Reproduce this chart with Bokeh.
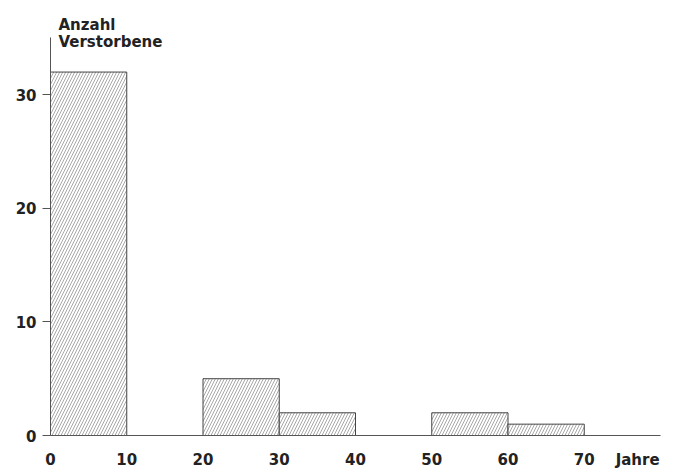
from bokeh.plotting import figure
from bokeh.models import Range1d, FixedTicker, Label
from bokeh.embed import file_html
from bokeh.resources import INLINE

# Data: age groups (years) and number of deceased
bin_left = [0, 10, 20, 30, 40, 50, 60]
bin_right = [10, 20, 30, 40, 50, 60, 70]
deceased = [32, 0, 5, 2, 0, 2, 1]

x_ticks = [0, 10, 20, 30, 40, 50, 60, 70, 77]
x_tick_labels = ["0", "10", "20", "30", "40", "50", "60", "70", "Jahre"]
y_ticks = [0, 10, 20, 30]
y_title_lines = ["Anzahl", "Verstorbene"]

FONT = "DejaVu Sans"
INK = "#222222"
FS = "15px"

p = figure(width=670, height=471, output_backend="svg", toolbar_location=None,
           x_range=Range1d(0, 80), y_range=Range1d(0, 38.3),
           min_border_left=50, min_border_right=10, min_border_top=0, min_border_bottom=30)
p.outline_line_color = None
p.grid.visible = False
p.background_fill_color = "white"
p.border_fill_color = "white"

bars = [(l, r, v) for l, r, v in zip(bin_left, bin_right, deceased) if v > 0]
p.quad(left=[b[0] for b in bars], right=[b[1] for b in bars], bottom=0,
       top=[b[2] for b in bars], fill_color="white", line_color="#444444", line_width=1,
       hatch_pattern="/", hatch_color="#a8a8a8", hatch_weight=1, hatch_scale=6)

# x axis
p.xaxis.ticker = FixedTicker(ticks=x_ticks)
p.xaxis.major_label_overrides = {t: s for t, s in zip(x_ticks, x_tick_labels)}
p.xaxis.major_tick_out = 0
p.xaxis.major_tick_in = 0
p.xaxis.minor_tick_line_color = None
p.xaxis.axis_line_color = "#555555"
p.xaxis.major_label_standoff = 15
p.xaxis.major_label_text_font = FONT
p.xaxis.major_label_text_font_style = "bold"
p.xaxis.major_label_text_font_size = FS
p.xaxis.major_label_text_color = INK

# y axis
p.yaxis.ticker = FixedTicker(ticks=y_ticks)
p.yaxis.bounds = (0, 35)
p.yaxis.major_tick_out = 8
p.yaxis.major_tick_in = 0
p.yaxis.major_tick_line_color = "#555555"
p.yaxis.minor_tick_line_color = None
p.yaxis.axis_line_color = "#555555"
p.yaxis.major_label_standoff = 6
p.yaxis.major_label_text_font = FONT
p.yaxis.major_label_text_font_style = "bold"
p.yaxis.major_label_text_font_size = FS
p.yaxis.major_label_text_color = INK

for txt, yy in zip(y_title_lines, [36.14, 34.65]):
    p.add_layout(Label(x=1.05, y=yy, text=txt, text_font=FONT, text_font_style="bold",
                       text_font_size=FS, text_color=INK, text_baseline="alphabetic"))

open("out.html", "w").write(file_html(p, INLINE))
